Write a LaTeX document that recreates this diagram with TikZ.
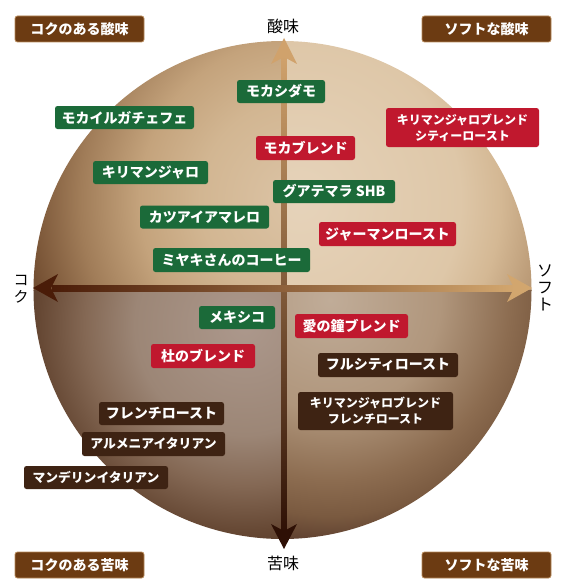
\documentclass[tikz,border=0pt]{standalone}
\usepackage{fontspec}
\setmainfont{Noto Sans CJK JP}
% upper-left quadrant
\definecolor{a0}{HTML}{DCC4A6}
\definecolor{a1}{HTML}{D2B692}
\definecolor{a2}{HTML}{C4A37C}
\definecolor{a3}{HTML}{A07C58}
\definecolor{a4}{HTML}{744F32}
% upper-right quadrant
\definecolor{b0}{HTML}{E6D3BA}
\definecolor{b1}{HTML}{DEC7A8}
\definecolor{b2}{HTML}{D4B894}
\definecolor{b3}{HTML}{BC9C78}
\definecolor{b4}{HTML}{9C7854}
% lower-left quadrant
\definecolor{c0}{HTML}{AC988C}
\definecolor{c1}{HTML}{9C8676}
\definecolor{c2}{HTML}{846854}
\definecolor{c3}{HTML}{664834}
\definecolor{c4}{HTML}{4A2E1E}
% lower-right quadrant
\definecolor{d0}{HTML}{C0AC98}
\definecolor{d1}{HTML}{B0967C}
\definecolor{d2}{HTML}{8C6C50}
\definecolor{d3}{HTML}{7A5A40}
\definecolor{d4}{HTML}{56382A}
\definecolor{d5}{HTML}{44291B}
\definecolor{cgreen}{HTML}{1B6A39}
\definecolor{cred}{HTML}{C0182E}
\definecolor{cdark}{HTML}{3E2313}
\definecolor{ccorner}{HTML}{6C3B12}
\definecolor{cedge}{HTML}{B88A5A}
\definecolor{axtop}{HTML}{D0A26C}
\definecolor{axmid}{HTML}{8A5830}
\definecolor{axbot}{HTML}{2E1005}
\definecolor{axleft}{HTML}{4A1C08}
\definecolor{axhmid}{HTML}{8E5E34}
\definecolor{axright}{HTML}{D2A66E}
\pgfdeclareradialshading{qul}{\pgfpoint{0bp}{0bp}}{color(0bp)=(a0); color(100bp)=(a1); color(160bp)=(a2); color(220bp)=(a3); color(275bp)=(a4); color(330bp)=(a4)}
\pgfdeclareradialshading{qur}{\pgfpoint{0bp}{0bp}}{color(0bp)=(b0); color(160bp)=(b1); color(200bp)=(b2); color(240bp)=(b3); color(300bp)=(b4); color(330bp)=(b4)}
\pgfdeclareradialshading{qll}{\pgfpoint{0bp}{0bp}}{color(0bp)=(c0); color(110bp)=(c1); color(160bp)=(c2); color(205bp)=(c3); color(255bp)=(c4); color(330bp)=(c4)}
\pgfdeclareradialshading{qlr}{\pgfpoint{0bp}{0bp}}{color(0bp)=(d0); color(110bp)=(d1); color(180bp)=(d2); color(215bp)=(d3); color(250bp)=(d4); color(290bp)=(d5); color(330bp)=(d5)}
\newcommand\putshading[3]{%
  \begin{pgfscope}
    \pgftransformshift{\pgfpoint{#1pt}{-#2pt}}%
    \pgflowlevelsynccm
    \pgfuseshading{#3}%
  \end{pgfscope}}
\tikzset{
  lab/.style={rounded corners=2.5pt, text=white, font=\fontsize{14pt}{16pt}\selectfont\bfseries, inner sep=0pt, minimum height=23pt, align=center},
  gr/.style={lab, fill=cgreen},
  rd/.style={lab, fill=cred},
  dk/.style={lab, fill=cdark},
  two/.style={font=\fontsize{12pt}{16pt}\selectfont\bfseries, minimum height=38pt},
  corner/.style={lab, fill=ccorner, draw=cedge, line width=0.8pt, minimum width=129pt, minimum height=26pt},
  axlab/.style={font=\fontsize{16pt}{17pt}\selectfont, text=black, inner sep=0pt, align=center}
}
\begin{document}
\begin{tikzpicture}[x=1pt,y=-1pt]
\useasboundingbox (0,0) rectangle (564,586);
\fill[white] (0,0) rectangle (564,586);
% circle, four shaded quadrants
\begin{scope}
  \clip (282.5,290) circle (249pt);
  \begin{scope}
    \clip (0,0) rectangle (284,290);
    \putshading{300}{200}{qul}
  \end{scope}
  \begin{scope}
    \clip (284,0) rectangle (564,290);
    \putshading{300}{200}{qur}
  \end{scope}
  \begin{scope}
    \clip (0,290) rectangle (284,586);
    \putshading{245}{325}{qll}
  \end{scope}
  \begin{scope}
    \clip (284,290) rectangle (564,586);
    \putshading{330}{300}{qlr}
  \end{scope}
\end{scope}
% axes
\coordinate (ctop) at (284,38);
\coordinate (cbot) at (284,549);
\coordinate (cleft) at (33,288);
\coordinate (cright) at (532,288);
\shade[top color=axtop, middle color=axmid, bottom color=axbot] (281.5,56) rectangle (286.5,532);
\shade[left color=axleft, middle color=axhmid, right color=axright] (52,285) rectangle (514,291);
\fill[axtop] (ctop) -- (297,64) -- (284,57) -- (271,64) -- cycle;
\fill[axbot] (cbot) -- (297,524) -- (284,531) -- (271,524) -- cycle;
\fill[axleft] (cleft) -- (58,274) -- (51,288) -- (58,302) -- cycle;
\fill[axright] (cright) -- (507,274) -- (514,288) -- (507,302) -- cycle;
% axis labels
\node[axlab] (sour) at (283,26) {酸味};
\node[axlab] (bitter) at (283,563) {苦味};
\node[axlab, font=\fontsize{15pt}{17pt}\selectfont] (koku) at (21,289.5) {コ\\ク};
\node[axlab] (soft) at (545,288) {ソ\\フ\\ト};
% corner boxes
\node[corner] (c1) at (79.5,29) {コクのある酸味};
\node[corner] (c2) at (486.5,29) {ソフトな酸味};
\node[corner] (c3) at (79.5,565) {コクのある苦味};
\node[corner] (c4) at (486.5,565) {ソフトな苦味};
% green
\node[gr, minimum width=88pt] (g1) at (281,91.5) {モカシダモ};
\node[gr, minimum width=139pt] (g2) at (124.5,117.5) {モカイルガチェフェ};
\node[gr, minimum width=115pt] (g3) at (150.5,172.5) {キリマンジャロ};
\node[gr, minimum width=129pt] (g4) at (204.5,217) {カツアイアマレロ};
\node[gr, minimum width=157pt, minimum height=24pt] (g5) at (231.5,260) {ミヤキさんのコーヒー};
\node[gr, minimum width=122pt] (g6) at (334,191.5) {グアテマラ SHB};
\node[gr, minimum width=76pt] (g7) at (237,317.5) {メキシコ};
% red
\node[rd, two, minimum width=153pt, minimum height=39pt] (r1) at (462.5,127.5) {キリマンジャロブレンド\\シティーロースト};
\node[rd, minimum width=99pt, minimum height=24pt] (r2) at (305.5,148) {モカブレンド};
\node[rd, minimum width=137pt, minimum height=24pt] (r3) at (387.5,234) {ジャーマンロースト};
\node[rd, minimum width=113pt, minimum height=24pt] (r4) at (351.5,326) {愛の鐘ブレンド};
\node[rd, minimum width=104pt, minimum height=24pt] (r5) at (203,356) {杜のブレンド};
% dark
\node[dk, minimum width=140pt, minimum height=24pt] (d1) at (388,365) {フルシティロースト};
\node[dk, two, minimum width=155pt] (d2) at (375.5,411) {キリマンジャロブレンド\\フレンチロースト};
\node[dk, minimum width=125pt] (d3) at (161.5,413.5) {フレンチロースト};
\node[dk, minimum width=143pt, minimum height=24pt, font=\fontsize{12.8pt}{15pt}\selectfont\bfseries] (d4) at (153.5,444) {アルメニアイタリアン};
\node[dk, minimum width=144pt, font=\fontsize{12.8pt}{15pt}\selectfont\bfseries] (d5) at (96,477.5) {マンデリンイタリアン};
\end{tikzpicture}
\end{document}
